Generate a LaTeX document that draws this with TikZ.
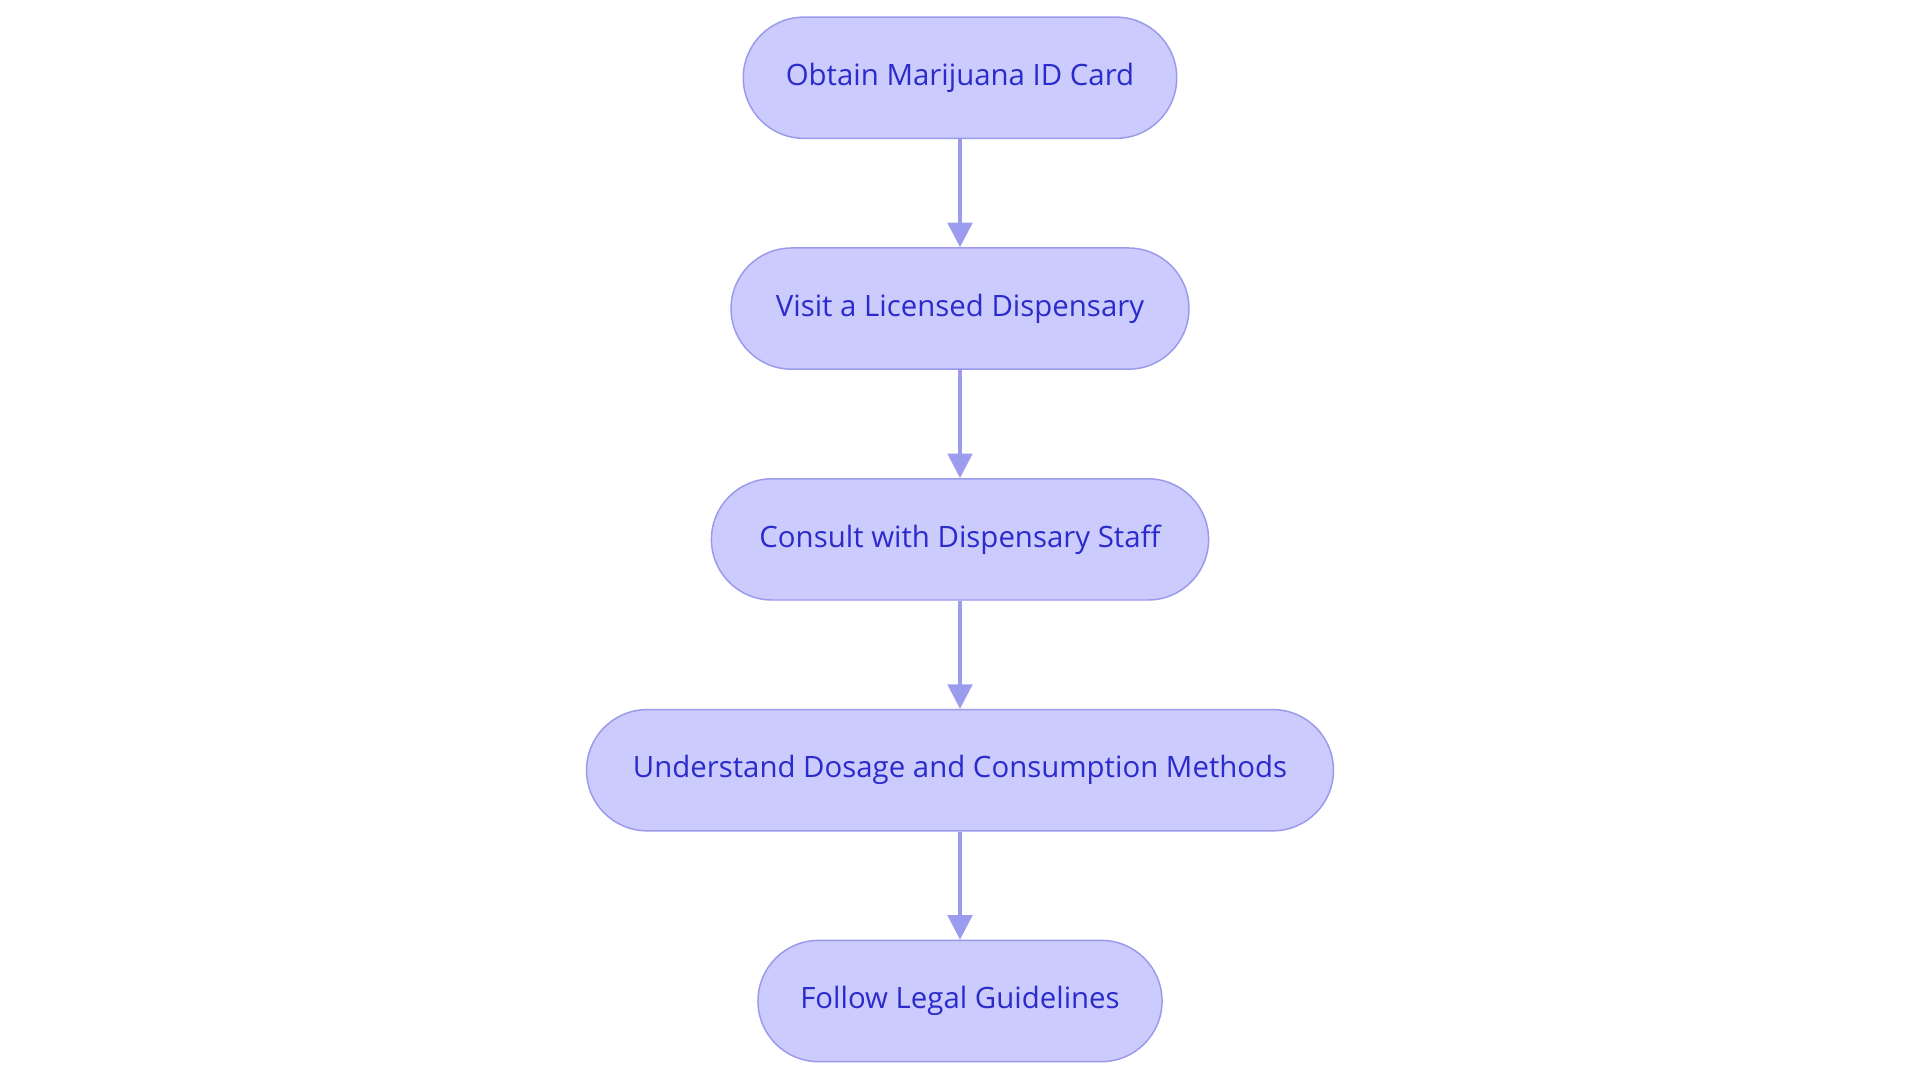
\documentclass[tikz,border=0pt]{standalone}
\usepackage{fontspec}
\setmainfont{Open Sans}
\usetikzlibrary{arrows.meta}
\definecolor{nfill}{HTML}{CBCBFD}
\definecolor{ndraw}{HTML}{9A9AEC}
\definecolor{ntext}{HTML}{2B2BCC}
\definecolor{arr}{HTML}{9C9CEE}
\begin{document}
\begin{tikzpicture}[x=1pt,y=-1pt,
  box/.style={draw=ndraw,line width=1.2pt,fill=nfill,rounded corners=49.5pt,minimum height=99pt,text=ntext,font=\fontsize{24}{28}\selectfont,inner sep=0pt},
  conn/.style={draw=arr,line width=3pt,-{Triangle[length=20pt,width=20pt]}}]
\useasboundingbox (0,0) rectangle (1568,884);
\node[box,minimum width=354pt] (a) at (784,63.5) {Obtain Marijuana ID Card};
\node[box,minimum width=374pt] (b) at (784,252) {Visit a Licensed Dispensary};
\node[box,minimum width=406pt] (c) at (784,440.5) {Consult with Dispensary Staff};
\node[box,minimum width=610pt] (d) at (784,629) {Understand Dosage and Consumption Methods};
\node[box,minimum width=330pt] (e) at (784,817.5) {Follow Legal Guidelines};
\draw[conn] (a) -- (b);
\draw[conn] (b) -- (c);
\draw[conn] (c) -- (d);
\draw[conn] (d) -- (e);
\end{tikzpicture}
\end{document}
